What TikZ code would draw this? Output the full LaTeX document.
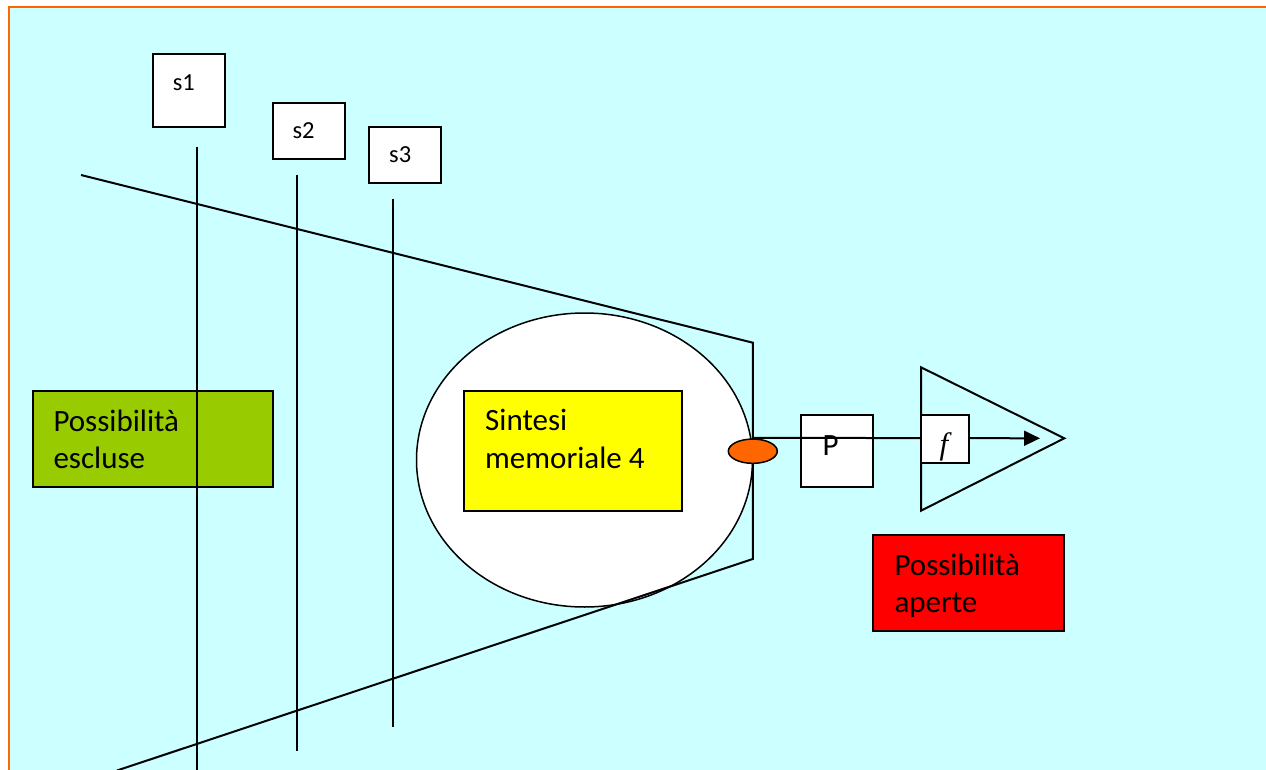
\documentclass[tikz,border=0pt]{standalone}
\usepackage{fontspec}
\setmainfont{Carlito}
\newfontfamily\fserif{Liberation Serif}
\usetikzlibrary{shapes.geometric,arrows.meta}
\definecolor{bgcyan}{HTML}{CCFFFF}
\definecolor{frameorange}{HTML}{FF6600}
\definecolor{boxgreen}{HTML}{99CC00}
\definecolor{boxyellow}{HTML}{FFFF00}
\definecolor{boxred}{HTML}{FF0000}
\definecolor{dotorange}{HTML}{FF6600}
\tikzset{
  sbox/.style={draw=black, fill=white, line width=2pt, inner sep=0pt},
  cbox/.style={draw=black, line width=2pt, inner sep=0pt},
  bigtxt/.style={anchor=base west, inner sep=0pt, font=\fontsize{31}{38}\selectfont},
  smalltxt/.style={anchor=base west, inner sep=0pt, font=\fontsize{24.5}{30}\selectfont},
  ray/.style={line width=2.2pt, black},
  edge/.style={line width=2pt, black}
}
\begin{document}
\begin{tikzpicture}[x=1pt,y=-1pt]
\useasboundingbox (0,0) rectangle (1266,770);
\fill[white] (0,0) rectangle (1266,770);
\fill[bgcyan] (9,6.7) rectangle (1267,771);
\draw[frameorange, line width=2.2pt] (9,771) -- (9,6.7) -- (1267,6.7);

% s boxes
\node[sbox, minimum width=72.6, minimum height=72.7] (s1) at (189,90.7) {};
\node[smalltxt] (s1t) at (172.7,90.7) {s1};
\node[sbox, minimum width=72.6, minimum height=56.3] (s2) at (309,130.8) {};
\node[smalltxt] (s2t) at (292.3,138.3) {s2};
\node[sbox, minimum width=72.3, minimum height=56.3] (s3) at (404.8,154.8) {};
\node[smalltxt] (s3t) at (389,162.7) {s3};

% green box
\node[cbox, fill=boxgreen, minimum width=240.6, minimum height=95.7] (excl) at (153,438.8) {};
\node[bigtxt] (excl1) at (53.3,431.7) {Possibilità};
\node[bigtxt] (excl2) at (53.3,468.3) {escluse};

% big ellipse
\node[ellipse, draw=black, fill=white, line width=1.5pt, minimum width=336, minimum height=294, inner sep=0pt] (mem) at (584.5,460) {};

% trapezoid
\coordinate (ta) at (81,175);
\coordinate (tb) at (752.8,342.7);
\coordinate (tc) at (752.8,559);
\coordinate (td) at (117,770.5);
\draw[edge] (ta) -- (tb) -- (tc) -- (td);

% vertical lines of s1, s2, s3
\coordinate (v1a) at (197,147);
\coordinate (v1b) at (197,771);
\coordinate (v2a) at (296.7,175);
\coordinate (v2b) at (296.7,750.7);
\coordinate (v3a) at (392.7,199);
\coordinate (v3b) at (392.7,726.7);
\draw[ray] (v1a) -- (v1b);
\draw[ray] (v2a) -- (v2b);
\draw[ray] (v3a) -- (v3b);

% yellow box
\node[cbox, fill=boxyellow, minimum width=217.4, minimum height=120.3] (sint) at (573,450.8) {};
\node[bigtxt] (sint1) at (485,430.7) {Sintesi};
\node[bigtxt] (sint2) at (485,468.7) {memoriale 4};

% P box
\node[sbox, minimum width=72.6, minimum height=72] (P) at (837,450.7) {};
\node[bigtxt] (Pt) at (822.3,455) {P};

% triangle
\coordinate (tr1) at (921,367.3);
\coordinate (tr2) at (1064.3,438.3);
\coordinate (tr3) at (921,510.7);
\draw[edge, line join=miter] (tr1) -- (tr2) -- (tr3) -- cycle;

% orange dot
\node[ellipse, draw=black, fill=dotorange, line width=1.5pt, minimum width=49, minimum height=24.3, inner sep=0pt] (dot) at (752.8,451.2) {};

% arrow
\coordinate (tip) at (1040,438.3);
\draw[line width=2pt, -{Triangle[length=16pt,width=15pt]}] (dot.north) ++(0,-0.5) -- (tip);

% f box
\node[sbox, minimum width=48, minimum height=48.6] (fbox) at (945,439) {};
\node[anchor=base, inner sep=0pt, font=\fserif\itshape\fontsize{31}{36}\selectfont] (ft) at (944,454) {f};

% red box
\node[cbox, fill=boxred, minimum width=191.6, minimum height=96] (aper) at (968.5,583) {};
\node[bigtxt] (aper1) at (894.3,575) {Possibilità};
\node[bigtxt] (aper2) at (894.3,612.3) {aperte};
\end{tikzpicture}
\end{document}
